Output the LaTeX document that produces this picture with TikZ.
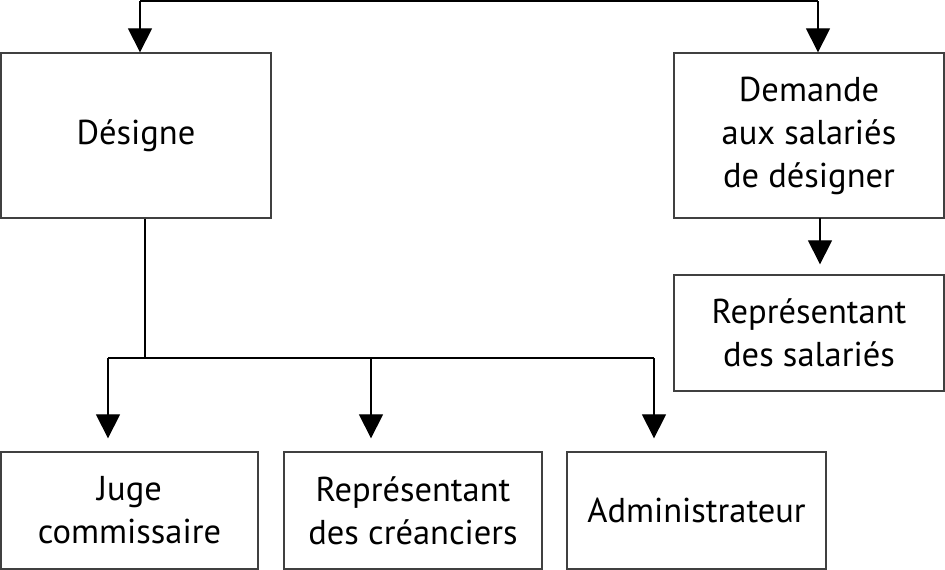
\documentclass[tikz,border=0pt]{standalone}
\usepackage{fontspec}
\setmainfont{PT Sans}
\usetikzlibrary{arrows.meta,calc}
\begin{document}
\begin{tikzpicture}[x=1pt,y=-1pt,
  box/.style={draw=black!75,line width=1.3pt,rectangle,align=center,inner sep=0pt,
    font=\fontsize{34.5}{43}\selectfont},
  conn/.style={draw=black,line width=1.2pt},
  arr/.style={conn,-{Triangle[width=24pt,length=24pt]}}]
\useasboundingbox (0,0) rectangle (945,570);
\node[box,minimum width=270pt,minimum height=165pt] (designe) at (136,135.5) {Désigne};
\node[box,minimum width=270pt,minimum height=165pt] (demande) at (809,135.5) {Demande\\aux salariés\\de désigner};
\node[box,minimum width=270pt,minimum height=116pt] (repsal) at (809,333) {Représentant\\des salariés};
\node[box,minimum width=257pt,minimum height=117pt] (juge) at (129.5,510.5) {Juge\\commissaire};
\node[box,minimum width=258pt,minimum height=117pt] (repcre) at (413,510.5) {Représentant\\des créanciers};
\node[box,minimum width=259pt,minimum height=117pt] (admin) at (696.5,510.5) {Administrateur};
\coordinate (t1) at (140,1);
\coordinate (t2) at (818,1);
\coordinate (b0) at (145,358);
\coordinate (h1) at (108,358);
\coordinate (h2) at (371,358);
\coordinate (h3) at (654,358);
\coordinate (d1) at (820,218);
\draw[conn] (t1) -- (t2);
\draw[arr] (t1) -- (t1 |- designe.north);
\draw[arr] (t2) -- (t2 |- demande.north);
\draw[arr,shorten >=10pt] (d1) -- (d1 |- repsal.north);
\draw[conn] (b0 |- designe.south) -- (b0);
\draw[conn] (h1) -- (h3);
\draw[arr,shorten >=13pt] (h1) -- (h1 |- juge.north);
\draw[arr,shorten >=13pt] (h2) -- (h2 |- repcre.north);
\draw[arr,shorten >=13pt] (h3) -- (h3 |- admin.north);
\end{tikzpicture}
\end{document}
